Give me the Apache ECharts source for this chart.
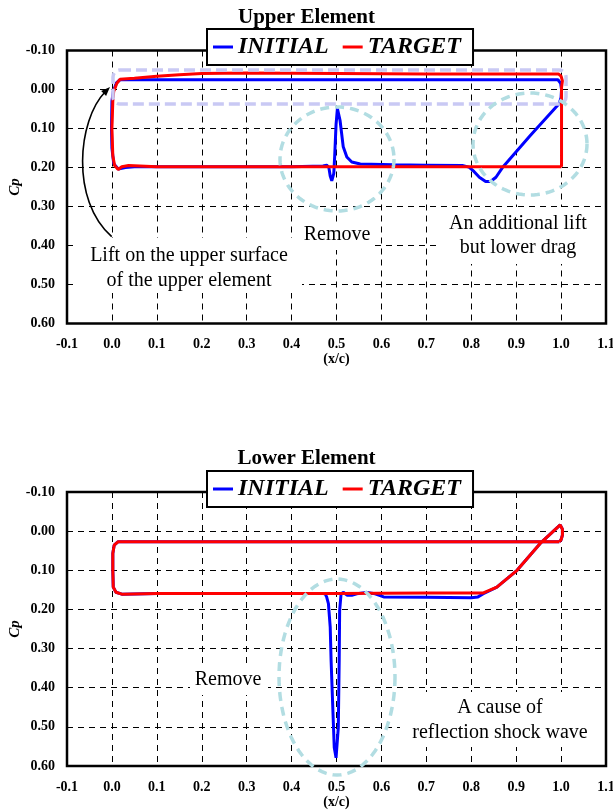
<!DOCTYPE html>
<html>
<head>
<meta charset="utf-8">
<script src="https://cdn.jsdelivr.net/npm/echarts@6/dist/echarts.min.js"></script>
<style>html,body{margin:0;padding:0;background:#fff;}#c{width:613px;height:810px;}</style>
</head>
<body>
<div id="c"></div>
<script>
// ---------- data ----------
const xTickLabels = ['-0.1','0.0','0.1','0.2','0.3','0.4','0.5','0.6','0.7','0.8','0.9','1.0','1.1'];
const yTickLabels = ['-0.10','0.00','0.10','0.20','0.30','0.40','0.50','0.60'];
const seriesNames = ['INITIAL', 'TARGET'];
const panelTitles = ['Upper Element', 'Lower Element'];
const yAxisName = 'Cp';

const upperInitial = [
  [0.018,-0.025],[0.1,-0.025],[0.3,-0.025],[0.5,-0.025],[0.7,-0.025],[0.9,-0.025],[0.993,-0.025],
  [0.999,-0.016],[1.001,0.0],[1.0,0.02],[0.996,0.036],[0.93,0.12],[0.871,0.198],[0.855,0.225],
  [0.843,0.236],[0.832,0.236],[0.818,0.225],[0.806,0.21],[0.795,0.199],[0.78,0.195],[0.7,0.194],
  [0.626,0.193],[0.553,0.191],[0.534,0.186],[0.523,0.173],[0.515,0.147],[0.508,0.08],[0.502,0.049],
  [0.499,0.09],[0.496,0.17],[0.494,0.215],[0.4895,0.234],[0.486,0.222],[0.483,0.2],[0.478,0.194],
  [0.47,0.196],[0.4,0.198],[0.2,0.198],[0.05,0.198],[0.03,0.2],[0.014,0.204],[0.004,0.19],
  [0.0,0.15],[-0.001,0.1],[0.0,0.03],[0.003,0.005],[0.01,-0.017],[0.018,-0.025]
];
const upperTarget = [
  [1.001,0.198],[0.9,0.198],[0.7,0.198],[0.5,0.198],[0.3,0.198],[0.1,0.198],[0.037,0.195],
  [0.022,0.198],[0.014,0.205],[0.006,0.195],[0.002,0.17],[0.0,0.1],[0.002,0.03],[0.004,0.005],
  [0.011,-0.016],[0.018,-0.026],[0.05,-0.029],[0.1,-0.034],[0.15,-0.038],[0.2,-0.041],[0.3,-0.042],
  [0.5,-0.041],[0.7,-0.04],[0.9,-0.04],[0.994,-0.04],[1.0,-0.034],[1.003,-0.022],[1.001,-0.005],
  [1.001,0.198]
];
const lowerInitial = [
  [0.996,0.027],[0.8,0.027],[0.6,0.027],[0.4,0.027],[0.2,0.027],[0.05,0.027],[0.014,0.027],
  [0.005,0.036],[0.002,0.057],[0.002,0.1],[0.003,0.143],[0.009,0.156],[0.022,0.161],[0.1,0.159],
  [0.3,0.159],[0.47,0.159],[0.475,0.161],[0.478,0.168],[0.482,0.185],[0.486,0.245],[0.488,0.331],
  [0.492,0.459],[0.495,0.553],[0.499,0.579],[0.503,0.574],[0.504,0.502],[0.506,0.331],[0.507,0.203],
  [0.51,0.162],[0.515,0.156],[0.524,0.164],[0.534,0.164],[0.545,0.16],[0.567,0.157],[0.586,0.16],
  [0.605,0.168],[0.7,0.169],[0.8,0.17],[0.815,0.168],[0.827,0.16],[0.857,0.143],[0.902,0.1],
  [0.953,0.032],[0.998,-0.016],[1.003,-0.005],[1.003,0.01],[1.0,0.022],[0.996,0.027]
];
const lowerTarget = [
  [0.996,0.027],[0.8,0.027],[0.6,0.027],[0.4,0.027],[0.2,0.027],[0.05,0.027],[0.014,0.027],
  [0.005,0.036],[0.002,0.057],[0.002,0.1],[0.003,0.143],[0.009,0.156],[0.022,0.161],[0.1,0.159],
  [0.3,0.159],[0.5,0.159],[0.7,0.158],[0.8,0.158],[0.827,0.158],[0.857,0.143],[0.902,0.1],
  [0.953,0.032],[0.998,-0.016],[1.003,-0.005],[1.003,0.01],[1.0,0.022],[0.996,0.027]
];

// ---------- chart ----------
const FONT = 'Liberation Serif';
const BLUE = '#0000ff', RED = '#ff0000';
const chart = echarts.init(document.getElementById('c'), null, {renderer: 'canvas'});

const grids = [
  {left: 67, top: 50.5, width: 539, height: 273},
  {left: 67, top: 492, width: 539, height: 274}
];

function xAxis(i) {
  return {
    type: 'value', gridIndex: i, min: -0.1, max: 1.1, interval: 0.1,
    name: '(x/c)', nameLocation: 'middle', nameGap: 29,
    nameTextStyle: {fontFamily: FONT, fontWeight: 'bold', fontSize: 14, color: '#000'},
    axisLine: {show: false}, axisTick: {show: false},
    axisLabel: {margin: 14, fontFamily: FONT, fontWeight: 'bold', fontSize: 14, color: '#000',
      formatter: (v, idx) => xTickLabels[idx] !== undefined ? xTickLabels[idx] : v.toFixed(1)},
    splitLine: {show: true, lineStyle: {color: '#000', width: 1, type: [6, 5]}}
  };
}
function yAxis(i) {
  return {
    type: 'value', gridIndex: i, min: -0.1, max: 0.6, interval: 0.1, inverse: true,
    axisLine: {show: false}, axisTick: {show: false},
    axisLabel: {margin: 12, fontFamily: FONT, fontWeight: 'bold', fontSize: 14, color: '#000',
      formatter: (v, idx) => yTickLabels[idx] !== undefined ? yTickLabels[idx] : v.toFixed(2)},
    splitLine: {show: true, lineStyle: {color: '#000', width: 1, type: [6, 5]}}
  };
}
function line(name, data, i, color, z) {
  return {
    name: name, type: 'line', xAxisIndex: i, yAxisIndex: i, data: data,
    showSymbol: false, symbol: 'none', smooth: false, z: z,
    lineStyle: {color: color, width: 3}, itemStyle: {color: color},
    emphasis: {disabled: true}, animation: false
  };
}
function legend(top) {
  return {
    data: seriesNames, left: 207, top: top, orient: 'horizontal',
    backgroundColor: '#fff', borderColor: '#000', borderWidth: 2,
    padding: [6, 12, 6, 6], itemGap: 14, itemWidth: 20, itemHeight: 3, icon: 'rect',
    textStyle: {fontFamily: FONT, fontWeight: 'bold', fontStyle: 'italic', fontSize: 24, color: '#000'},
    selectedMode: false, z: 10
  };
}

// annotation helpers (pixel layout)
function ellipse(cx, cy, rx, ry) {
  const pts = [];
  for (let k = 0; k < 96; k++) {
    const a = k / 96 * Math.PI * 2;
    pts.push([cx + rx * Math.cos(a), cy + ry * Math.sin(a)]);
  }
  return {type: 'polygon', shape: {points: pts}, silent: true, z: 5,
    style: {fill: 'none', stroke: '#b2dde2', lineWidth: 3.5, lineDash: [9, 6]}};
}
function box(x, y, w, h) {
  return {type: 'rect', shape: {x: x, y: y, width: w, height: h}, silent: true, z: 4,
    style: {fill: '#fff', stroke: null}};
}
function text(x, y, str) {
  return {type: 'text', x: x, y: y, silent: true, z: 6,
    style: {text: str, fill: '#000', font: '20px "' + FONT + '"', align: 'center', verticalAlign: 'middle'}};
}
function yName(cy) {
  return {type: 'text', x: 15, y: cy, rotation: Math.PI / 2, silent: true, z: 6,
    style: {text: yAxisName, fill: '#000', font: 'italic bold 15px "' + FONT + '"', align: 'center', verticalAlign: 'middle'}};
}

const graphics = [
  yName(187),
  yName(629),
  box(77, 238, 225, 55),
  box(300, 222, 74, 28),
  box(440, 207, 164, 57),
  box(190, 665, 78, 30),
  box(400, 692, 204, 55),
  {type: 'rect', shape: {x: 113, y: 70, width: 453, height: 34, r: 7}, silent: true, z: 5,
    style: {fill: 'none', stroke: '#c9c9f4', lineWidth: 3.5, lineDash: [11, 5]}},
  ellipse(337, 159, 57, 52),
  ellipse(530, 144, 57, 51),
  ellipse(337, 677, 58, 98),
  {type: 'bezierCurve', silent: true, z: 6,
    shape: {x1: 111.7, y1: 236.7, cpx1: 70, cpy1: 200, cpx2: 78, cpy2: 120, x2: 105, y2: 92},
    style: {stroke: '#000', lineWidth: 1.6, fill: 'none'}},
  {type: 'polygon', silent: true, z: 6,
    shape: {points: [[110, 87], [106.1, 95.9], [101.1, 90.9]]}, style: {fill: '#000'}},
  text(189, 256, 'Lift on the upper surface'),
  text(189, 281, 'of the upper element'),
  text(337, 235, 'Remove'),
  text(518, 224, 'An additional lift'),
  text(518, 248, 'but lower drag'),
  text(228, 680, 'Remove'),
  text(500, 708, 'A cause of'),
  text(500, 733, 'reflection shock wave')
];

chart.setOption({
  animation: false,
  backgroundColor: '#fff',
  title: [
    {text: panelTitles[0], left: 'center', top: 7, padding: 0,
      textStyle: {fontFamily: FONT, fontWeight: 'bold', fontSize: 21, color: '#000'}},
    {text: panelTitles[1], left: 'center', top: 448, padding: 0,
      textStyle: {fontFamily: FONT, fontWeight: 'bold', fontSize: 21, color: '#000'}}
  ],
  legend: [legend(29), legend(471)],
  grid: grids.map(g => Object.assign({show: true, borderColor: '#000', borderWidth: 2.5,
    backgroundColor: 'transparent', containLabel: false, outerBoundsMode: 'none'}, g)),
  xAxis: [xAxis(0), xAxis(1)],
  yAxis: [yAxis(0), yAxis(1)],
  series: [
    line(seriesNames[0], upperInitial, 0, BLUE, 2),
    line(seriesNames[1], upperTarget, 0, RED, 3),
    line(seriesNames[0], lowerInitial, 1, BLUE, 2),
    line(seriesNames[1], lowerTarget, 1, RED, 3)
  ],
  graphic: {elements: graphics}
});
</script>
</body>
</html>
